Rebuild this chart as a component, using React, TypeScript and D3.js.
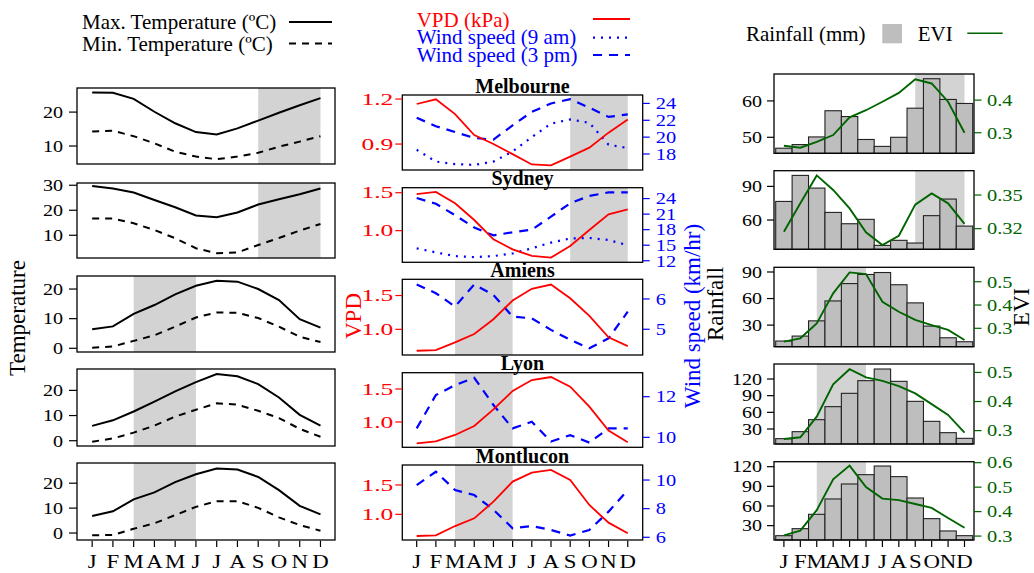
import * as d3 from "d3";

const months = ["J", "F", "M", "A", "M", "J", "J", "A", "S", "O", "N", "D"];
const sites = ["Melbourne", "Sydney", "Amiens", "Lyon", "Montlucon"];

// max / min temperature (deg C)
const tmaxMelbourne = [25.8, 25.7, 23.9, 20.1, 16.7, 14.1, 13.4, 15.2, 17.5, 19.8, 22.0, 24.1];
const tminMelbourne = [14.3, 14.5, 12.9, 10.8, 8.3, 6.9, 6.1, 6.9, 8.0, 9.8, 11.3, 12.9];
const tmaxSydney = [29.7, 28.7, 27.1, 24.1, 21.2, 17.9, 17.2, 19.1, 22.3, 24.4, 26.4, 28.7];
const tminSydney = [16.7, 16.7, 14.8, 12.1, 8.8, 4.8, 2.8, 3.1, 6.1, 8.9, 11.9, 14.5];
const tmaxAmiens = [6.4, 7.4, 11.6, 14.6, 18.2, 21.1, 22.8, 22.5, 20.0, 16.3, 9.8, 7.0];
const tminAmiens = [0.2, 0.6, 2.5, 4.4, 7.3, 10.4, 12.1, 12.0, 10.2, 7.3, 3.9, 2.1];
const tmaxLyon = [5.9, 8.1, 11.6, 15.5, 19.6, 23.3, 26.5, 25.6, 22.5, 17.2, 10.3, 6.0];
const tminLyon = [-0.4, 0.9, 3.2, 6.0, 9.6, 12.3, 14.9, 14.3, 11.9, 9.0, 4.7, 1.6];
const tmaxMontlucon = [6.8, 8.7, 13.5, 16.3, 20.4, 23.6, 25.9, 25.5, 22.5, 17.2, 10.9, 7.5];
const tminMontlucon = [-0.9, -0.8, 1.7, 3.9, 7.2, 10.5, 12.8, 12.8, 10.1, 6.3, 3.2, 0.9];

// VPD (kPa) and wind speed (km/hr)
const vpdMelbourne = [1.167, 1.198, 1.1, 0.96, 0.9, 0.833, 0.764, 0.758, 0.816, 0.876, 0.976, 1.064];
const windAmMelbourne = [18.5, 17.1, 16.8, 16.7, 17.1, 18.3, 20.0, 21.6, 22.1, 21.7, 19.1, 18.7];
const windPmMelbourne = [22.3, 21.3, 20.6, 19.9, 19.7, 21.4, 23.0, 24.0, 24.5, 23.5, 22.4, 22.7];
const vpdSydney = [1.48, 1.51, 1.36, 1.14, 0.886, 0.754, 0.667, 0.645, 0.798, 1.009, 1.215, 1.28];
const windAmSydney = [14.4, 13.6, 12.9, 12.7, 12.9, 13.4, 14.4, 15.5, 16.3, 16.4, 16.0, 15.0];
const windPmSydney = [24.1, 23.0, 20.8, 18.4, 16.9, 17.5, 18.0, 20.5, 23.1, 24.5, 25.2, 25.2];
const vpdAmiens = [0.683, 0.693, 0.807, 0.931, 1.149, 1.426, 1.6, 1.663, 1.46, 1.198, 0.881, 0.752];
const windPmAmiens = [6.48, 6.19, 5.75, 6.48, 6.13, 5.42, 5.36, 4.98, 4.65, 4.37, 4.7, 5.58];
const vpdLyon = [0.677, 0.707, 0.803, 0.939, 1.192, 1.47, 1.636, 1.682, 1.535, 1.232, 0.869, 0.692];
const windPmLyon = [10.44, 12.08, 12.57, 12.93, 11.59, 10.44, 10.77, 9.79, 10.11, 9.74, 10.44, 10.44];
const vpdMontlucon = [0.631, 0.642, 0.8, 0.932, 1.216, 1.557, 1.71, 1.756, 1.585, 1.159, 0.858, 0.676];
const windPmMontlucon = [9.65, 10.58, 9.3, 8.95, 7.93, 6.63, 6.79, 6.51, 6.12, 6.51, 7.79, 9.3];

// rainfall (mm) and EVI
const rainMelbourne = [47, 48, 50.1, 57.3, 55.7, 49.4, 47.5, 50, 58, 66.1, 60.4, 59.3];
const eviMelbourne = [0.26, 0.254, 0.272, 0.293, 0.347, 0.369, 0.395, 0.422, 0.464, 0.451, 0.395, 0.3];
const rainSydney = [76.6, 99.8, 88.5, 66.8, 56.7, 60.6, 37.4, 41.9, 39.5, 63.9, 78.7, 54.6];
const eviSydney = [0.3173, 0.3426, 0.3675, 0.3545, 0.3381, 0.3167, 0.3054, 0.3137, 0.3414, 0.3515, 0.3426, 0.3242];
const rainAmiens = [12, 17.6, 34.8, 57.3, 76.9, 87.2, 89.4, 75.6, 55.1, 28.9, 15.7, 11.2];
const eviAmiens = [0.243, 0.257, 0.321, 0.45, 0.54, 0.533, 0.414, 0.371, 0.336, 0.314, 0.293, 0.25];
const rainLyon = [12.6, 25.2, 46.8, 70.2, 94.2, 117, 138, 115.8, 79.8, 43.8, 23.4, 13.2];
const eviLyon = [0.271, 0.277, 0.348, 0.459, 0.511, 0.483, 0.471, 0.453, 0.428, 0.391, 0.354, 0.293];
const rainMontlucon = [14.7, 25.4, 47.3, 70.7, 93.6, 107.8, 121, 104.8, 72.2, 40.7, 21.9, 14.7];
const eviMontlucon = [0.303, 0.322, 0.406, 0.532, 0.588, 0.5, 0.453, 0.447, 0.431, 0.415, 0.374, 0.334];

const tmax = [tmaxMelbourne, tmaxSydney, tmaxAmiens, tmaxLyon, tmaxMontlucon];
const tmin = [tminMelbourne, tminSydney, tminAmiens, tminLyon, tminMontlucon];
const vpd = [vpdMelbourne, vpdSydney, vpdAmiens, vpdLyon, vpdMontlucon];
const windAm = [windAmMelbourne, windAmSydney, null, null, null];
const windPm = [windPmMelbourne, windPmSydney, windPmAmiens, windPmLyon, windPmMontlucon];
const rain = [rainMelbourne, rainSydney, rainAmiens, rainLyon, rainMontlucon];
const evi = [eviMelbourne, eviSydney, eviAmiens, eviLyon, eviMontlucon];

// shaded season (months, 1-based)
const isSouth = [true, true, false, false, false];
const seasonSouth = [9, 12];
const seasonNorth = [3, 6];

// axis settings per panel
const tempDomain = [[4.7, 27.1], [0.9, 30.9], [-1.25, 24.4], [-2.1, 28.5], [-2.8, 28.1]];
const tempTicks = [[10, 20], [10, 20, 30], [0, 10, 20], [0, 10, 20], [0, 10, 20]];
const vpdDomain = [[0.727, 1.227], [0.583, 1.566], [0.62, 1.74], [0.616, 1.747], [0.5625, 1.84]];
const vpdTicks = [[0.9, 1.2], [1.0, 1.5], [1.0, 1.5], [1.0, 1.5], [1.0, 1.5]];
const windDomain = [[16.1, 25.0], [11.7, 26.1], [4.15, 6.65], [9.51, 13.18], [5.81, 11.05]];
const windTicks = [[18, 20, 22, 24], [12, 15, 18, 21, 24], [5, 6], [10, 12], [6, 8, 10]];
const rainDomain = [[45.6, 67.4], [33.9, 104], [5.6, 95.3], [3, 147], [8.1, 127.6]];
const rainTicks = [[50, 60], [60, 90], [30, 60, 90], [30, 60, 90, 120], [30, 60, 90, 120]];
const eviDomain = [[0.237, 0.48], [0.3016, 0.3717], [0.221, 0.562], [0.254, 0.529], [0.284, 0.604]];
const eviTicks = [[0.3, 0.4], [0.32, 0.35], [0.3, 0.4, 0.5], [0.3, 0.4, 0.5], [0.3, 0.4, 0.5, 0.6]];
const eviFormat = [".1f", ".2f", ".1f", ".1f", ".1f"];

// layout
const leftRows = [[88, 164], [183, 258], [276, 352], [369, 446], [463, 540]];
const midRows = [[95, 170], [187.7, 262.3], [279.3, 355], [372.7, 447.3], [465, 540]];
const rightRows = [[74, 153.3], [170.7, 249.3], [267.3, 346.7], [364, 444], [461.7, 540]];
const LX = [77, 335];
const MX = [402.3, 642.7];
const RX = [774, 974];

const FONT = '"Liberation Serif", "Times New Roman", Times, serif';
const RED = "#ff0000";
const BLUE = "#0000ff";
const GREEN = "#006400";
const SHADE = "#d3d3d3";
const BAR = "#bebebe";

const Txt = ({ x, y, children, size = 17, sx = 1, anchor = "start", fill = "#000", bold = false, rot = 0, dy }: any) => (
  <text
    transform={`translate(${x},${y})${rot ? ` rotate(${rot})` : ""}${sx !== 1 ? ` scale(${sx},1)` : ""}`}
    fontFamily={FONT}
    fontSize={size}
    textAnchor={anchor}
    fill={fill}
    fontWeight={bold ? "bold" : "normal"}
    dy={dy}
  >
    {children}
  </text>
);

const MonthAxis = ({ pos, y }: { pos: (k: number) => number; y: number }) => (
  <g>
    {months.map((m, k) => (
      <g key={k}>
        <line x1={pos(k)} x2={pos(k)} y1={y + 0.7} y2={y + 7} stroke="#000" strokeWidth={1.2} />
        <Txt x={pos(k)} y={y + 27.5} size={19} sx={1.2} anchor="middle">{m}</Txt>
      </g>
    ))}
  </g>
);

function TempPanel({ i }: { i: number }) {
  const [top, bottom] = leftRows[i];
  const x = d3.scaleLinear().domain([0.27, 12.7]).range(LX);
  const y = d3.scaleLinear().domain(tempDomain[i]).range([bottom, top]);
  const line = d3.line<number>().x((_, k) => x(k + 1)).y((d) => y(d));
  const season = isSouth[i] ? seasonSouth : seasonNorth;
  return (
    <g>
      <rect x={x(season[0])} y={top} width={x(season[1]) - x(season[0])} height={bottom - top} fill={SHADE} />
      <path d={line(tmax[i]) as string} fill="none" stroke="#000" strokeWidth={2} />
      <path d={line(tmin[i]) as string} fill="none" stroke="#000" strokeWidth={2} strokeDasharray="7,6" />
      <rect x={LX[0]} y={top} width={LX[1] - LX[0]} height={bottom - top} fill="none" stroke="#000" strokeWidth={1.3} />
      {tempTicks[i].map((t) => (
        <g key={t}>
          <line x1={LX[0] - 8} x2={LX[0]} y1={y(t)} y2={y(t)} stroke="#000" strokeWidth={1.2} />
          <Txt x={LX[0] - 14} y={y(t)} dy="0.34em" anchor="end" sx={1.18}>{t}</Txt>
        </g>
      ))}
      {i === 4 && <MonthAxis pos={(k) => x(k + 1)} y={bottom} />}
    </g>
  );
}

function VpdPanel({ i }: { i: number }) {
  const [top, bottom] = midRows[i];
  const x = d3.scaleLinear().domain([0.25, 12.78]).range(MX);
  const yL = d3.scaleLinear().domain(vpdDomain[i]).range([bottom, top]);
  const yR = d3.scaleLinear().domain(windDomain[i]).range([bottom, top]);
  const lineL = d3.line<number>().x((_, k) => x(k + 1)).y((d) => yL(d));
  const lineR = d3.line<number>().x((_, k) => x(k + 1)).y((d) => yR(d));
  const season = isSouth[i] ? seasonSouth : seasonNorth;
  const am = windAm[i];
  const f1 = d3.format(".1f");
  return (
    <g>
      <rect x={x(season[0])} y={top} width={x(season[1]) - x(season[0])} height={bottom - top} fill={SHADE} />
      {am && <path d={lineR(am) as string} fill="none" stroke={BLUE} strokeWidth={2.2} strokeDasharray="2,6" />}
      <path d={lineR(windPm[i]) as string} fill="none" stroke={BLUE} strokeWidth={2.2} strokeDasharray="9,7" />
      <path d={lineL(vpd[i]) as string} fill="none" stroke={RED} strokeWidth={1.8} />
      <rect x={MX[0]} y={top} width={MX[1] - MX[0]} height={bottom - top} fill="none" stroke="#000" strokeWidth={1.3} />
      <Txt x={(MX[0] + MX[1]) / 2} y={top - 2.5} size={20} bold anchor="middle">{sites[i]}</Txt>
      {vpdTicks[i].map((t) => (
        <g key={t}>
          <line x1={MX[0] - 7} x2={MX[0]} y1={yL(t)} y2={yL(t)} stroke={RED} strokeWidth={1.2} />
          <Txt x={MX[0] - 9} y={yL(t)} dy="0.34em" anchor="end" sx={1.5} fill={RED}>{f1(t)}</Txt>
        </g>
      ))}
      {windTicks[i].map((t) => (
        <g key={t}>
          <line x1={MX[1]} x2={MX[1] + 7} y1={yR(t)} y2={yR(t)} stroke={BLUE} strokeWidth={1.2} />
          <Txt x={MX[1] + 13} y={yR(t)} dy="0.34em" sx={1.2} fill={BLUE}>{t}</Txt>
        </g>
      ))}
      {i === 4 && <MonthAxis pos={(k) => x(k + 1)} y={bottom} />}
    </g>
  );
}

function RainPanel({ i }: { i: number }) {
  const [top, bottom] = rightRows[i];
  const x = d3.scaleBand<number>().domain(d3.range(12)).range([RX[0] + 1.7, RX[1] - 1.3]).padding(0);
  const bw = x.bandwidth();
  const yL = d3.scaleLinear().domain(rainDomain[i]).range([bottom, top]);
  const yR = d3.scaleLinear().domain(eviDomain[i]).range([bottom, top]);
  const mid = (k: number) => (x(k) as number) + bw / 2;
  const line = d3.line<number>().x((_, k) => mid(k)).y((d) => yR(d));
  const season = isSouth[i] ? seasonSouth : seasonNorth;
  const fe = d3.format(eviFormat[i]);
  return (
    <g>
      <rect x={mid(season[0] - 1)} y={top} width={mid(season[1] - 1) - mid(season[0] - 1)} height={bottom - top} fill={SHADE} />
      {rain[i].map((v, k) => (
        <rect key={k} x={x(k)} y={yL(v)} width={bw} height={bottom - yL(v)} fill={BAR} stroke="#222" strokeWidth={1.1} />
      ))}
      <path d={line(evi[i]) as string} fill="none" stroke={GREEN} strokeWidth={1.9} />
      <rect x={RX[0]} y={top} width={RX[1] - RX[0]} height={bottom - top} fill="none" stroke="#000" strokeWidth={1.3} />
      {rainTicks[i].map((t) => (
        <g key={t}>
          <line x1={RX[0] - 7} x2={RX[0]} y1={yL(t)} y2={yL(t)} stroke="#000" strokeWidth={1.2} />
          <Txt x={RX[0] - 12} y={yL(t)} dy="0.34em" anchor="end" sx={1.18}>{t}</Txt>
        </g>
      ))}
      {eviTicks[i].map((t) => (
        <g key={t}>
          <line x1={RX[1]} x2={RX[1] + 7.5} y1={yR(t)} y2={yR(t)} stroke={GREEN} strokeWidth={1.2} />
          <Txt x={RX[1] + 13} y={yR(t)} dy="0.34em" sx={1.2} fill={GREEN}>{fe(t)}</Txt>
        </g>
      ))}
      {i === 4 && <MonthAxis pos={mid} y={bottom} />}
    </g>
  );
}

export default function App() {
  return (
    <svg width={1034} height={573} style={{ position: "absolute", left: 0, top: 0, background: "#fff" }}>
      {/* legends */}
      <Txt x={82} y={28.5} size={21}>Max. Temperature (ºC)</Txt>
      <Txt x={82} y={50.5} size={21}>Min. Temperature (ºC)</Txt>
      <line x1={289} x2={332} y1={22} y2={22} stroke="#000" strokeWidth={2} />
      <line x1={289} x2={332} y1={43.5} y2={43.5} stroke="#000" strokeWidth={2} strokeDasharray="7,6" />

      <Txt x={416.7} y={26.5} size={21} fill={RED}>VPD (kPa)</Txt>
      <Txt x={416.7} y={44} size={21} fill={BLUE}>Wind speed (9 am)</Txt>
      <Txt x={416.7} y={61.5} size={21} fill={BLUE}>Wind speed (3 pm)</Txt>
      <line x1={593} x2={630} y1={19} y2={19} stroke={RED} strokeWidth={1.8} />
      <line x1={593} x2={630} y1={37.7} y2={37.7} stroke={BLUE} strokeWidth={2.2} strokeDasharray="2,6" />
      <line x1={593} x2={630} y1={55} y2={55} stroke={BLUE} strokeWidth={2.2} strokeDasharray="9,7" />

      <Txt x={746} y={40.5} size={21}>Rainfall (mm)</Txt>
      <rect x={882.3} y={24} width={19.7} height={19.3} fill={BAR} />
      <Txt x={917.7} y={40.5} size={21}>EVI</Txt>
      <line x1={967.3} x2={1002.7} y1={33.3} y2={33.3} stroke={GREEN} strokeWidth={1.6} />

      {sites.map((s, i) => (
        <g key={s}>
          <TempPanel i={i} />
          <VpdPanel i={i} />
          <RainPanel i={i} />
        </g>
      ))}

      {/* axis titles */}
      <Txt x={25} y={318} size={23} rot={-90} anchor="middle">Temperature</Txt>
      <Txt x={361} y={316} size={23} rot={-90} anchor="middle" fill={RED}>VPD</Txt>
      <Txt x={700} y={316} size={23} rot={-90} anchor="middle" fill={BLUE}>Wind speed (km/hr)</Txt>
      <Txt x={723} y={304} size={23} rot={-90} anchor="middle">Rainfall</Txt>
      <Txt x={1029} y={307} size={23} rot={-90} anchor="middle">EVI</Txt>
    </svg>
  );
}
